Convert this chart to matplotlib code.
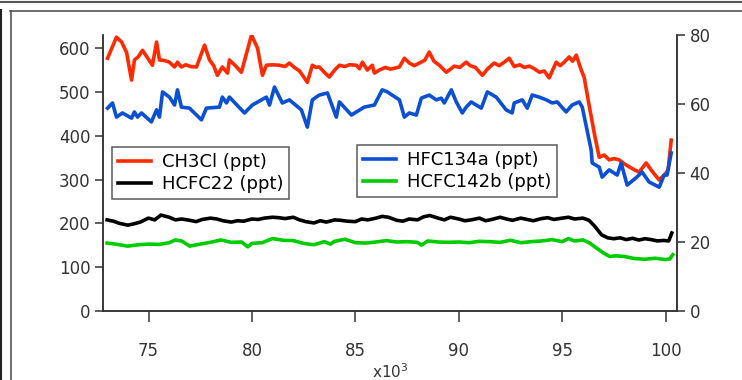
import numpy as np
import matplotlib.pyplot as plt
from matplotlib.lines import Line2D

# time axis in units of 1e3
red_x = [73.02, 73.45, 73.70, 73.94, 74.18, 74.32, 74.50, 74.71, 74.95, 75.19, 75.39, 75.53, 75.75,
         76.01, 76.26, 76.40, 76.59, 76.80, 77.05, 77.32, 77.71, 77.95, 78.15, 78.33, 78.57, 78.82,
         78.91, 79.20, 79.49, 79.98, 80.27, 80.51, 80.70, 81.00, 81.33, 81.60, 81.81, 82.05, 82.30,
         82.68, 82.92, 83.10, 83.26, 83.50, 83.74, 84.00, 84.23, 84.50, 84.70, 85.05, 85.20, 85.34,
         85.58, 85.82, 85.92, 86.16, 86.45, 86.70, 87.13, 87.37, 87.61, 87.85, 88.09, 88.35, 88.57,
         88.80, 89.06, 89.40, 89.60, 89.78, 90.05, 90.36, 90.55, 90.80, 91.14, 91.40, 91.71, 91.95,
         92.20, 92.44, 92.68, 92.95, 93.16, 93.41, 93.65, 93.90, 94.13, 94.37, 94.71, 94.90, 95.10,
         95.34, 95.50, 95.68, 95.92, 96.06, 96.30, 96.55, 96.79, 97.03, 97.27, 97.50, 97.75, 98.00,
         98.24, 98.50, 98.72, 99.06, 99.30, 99.50, 99.69, 100.02, 100.12, 100.27]
ch3cl = [577, 625, 614, 590, 527, 573, 580, 595, 578, 561, 614, 573, 572,
         568, 557, 568, 557, 562, 558, 557, 607, 573, 560, 538, 557, 543,
         573, 560, 545, 630, 600, 538, 561, 562, 561, 558, 566, 556, 548,
         522, 561, 556, 557, 545, 534, 550, 561, 558, 562, 561, 553, 568,
         550, 561, 543, 550, 556, 552, 557, 577, 566, 560, 566, 572, 591,
         570, 561, 545, 552, 559, 556, 568, 560, 556, 538, 553, 566, 560,
         568, 577, 558, 562, 556, 559, 553, 545, 548, 532, 568, 560, 568,
         580, 570, 584, 550, 534, 470, 406, 351, 356, 345, 348, 345, 336,
         329, 322, 317, 338, 322, 310, 299, 315, 322, 390]

blue_x = [73.02, 73.26, 73.45, 73.74, 74.18, 74.32, 74.47, 74.66, 75.14, 75.39, 75.53, 75.68, 76.01,
          76.26, 76.40, 76.59, 76.98, 77.56, 77.80, 78.43, 78.57, 78.77, 78.91, 79.64, 80.02, 80.70,
          80.85, 81.09, 81.47, 81.81, 82.39, 82.68, 82.92, 83.26, 83.65, 84.08, 84.23, 84.81, 85.43,
          85.92, 86.30, 86.55, 87.13, 87.37, 87.61, 87.95, 88.19, 88.57, 88.91, 89.15, 89.30, 89.64,
          89.88, 90.17, 90.36, 90.60, 91.09, 91.38, 91.81, 92.29, 92.58, 92.68, 93.07, 93.31, 93.55,
          93.89, 94.23, 94.52, 94.76, 95.19, 95.48, 95.82, 95.97, 96.40, 96.45, 96.79, 96.93, 97.27,
          97.66, 97.85, 98.14, 98.57, 98.86, 99.20, 99.69, 99.93, 100.07, 100.27]
hfc134a = [58.8, 60.3, 56.2, 57.4, 55.9, 57.7, 56.2, 57.4, 54.8, 58.3, 56.2, 63.5, 62.0,
           59.7, 64.1, 59.1, 58.8, 55.4, 58.8, 59.1, 62.0, 60.3, 62.0, 57.4, 59.7, 62.0,
           59.7, 64.9, 60.3, 61.2, 58.3, 53.3, 61.2, 62.6, 63.2, 56.2, 60.6, 56.8, 59.1,
           59.7, 64.1, 63.5, 61.2, 56.2, 57.4, 56.8, 61.7, 62.6, 61.2, 61.7, 60.3, 64.1,
           60.6, 57.4, 59.1, 60.6, 58.8, 63.5, 62.0, 58.3, 57.4, 60.3, 61.2, 58.8, 62.6,
           62.0, 61.2, 60.3, 60.6, 57.7, 59.7, 60.6, 59.1, 46.7, 42.9, 41.7, 38.8, 40.9,
           39.4, 42.9, 36.5, 38.6, 40.3, 37.4, 35.9, 39.4, 39.4, 45.8]

black_x = [73.0, 73.3, 73.6, 74.0, 74.3, 74.6, 75.0, 75.3, 75.6, 76.0, 76.3, 76.6, 77.0, 77.3, 77.6,
           78.0, 78.3, 78.6, 79.0, 79.3, 79.6, 80.0, 80.3, 80.6, 81.0, 81.3, 81.6, 82.0, 82.3, 82.6,
           83.0, 83.3, 83.6, 84.0, 84.3, 84.6, 85.0, 85.3, 85.6, 86.0, 86.3, 86.6, 87.0, 87.3, 87.6,
           88.0, 88.3, 88.6, 89.0, 89.3, 89.6, 90.0, 90.3, 90.6, 91.0, 91.3, 91.6, 92.0, 92.3, 92.6,
           93.0, 93.3, 93.6, 94.0, 94.3, 94.6, 95.0, 95.3, 95.6, 96.0, 96.3, 96.6, 96.9, 97.2, 97.5,
           97.8, 98.1, 98.4, 98.7, 99.0, 99.3, 99.6, 99.9, 100.15, 100.3]
hcfc22 = [208, 205, 200, 196, 199, 203, 212, 208, 219, 214, 208, 210, 207, 204, 209,
          212, 210, 206, 203, 206, 205, 210, 209, 212, 214, 213, 211, 214, 208, 204,
          201, 206, 203, 208, 207, 205, 204, 210, 208, 212, 216, 214, 207, 205, 210,
          208, 215, 218, 212, 208, 214, 210, 206, 208, 212, 206, 209, 214, 210, 207,
          212, 209, 206, 211, 213, 209, 212, 214, 210, 212, 207, 192, 174, 167, 165,
          167, 163, 166, 162, 165, 163, 160, 161, 160, 178]

green_x = [73.0, 73.5, 74.0, 74.5, 75.0, 75.5, 76.0, 76.3, 76.6, 77.0, 77.5, 78.0, 78.5, 79.0,
           79.5, 79.8, 80.0, 80.5, 81.0, 81.5, 82.0, 82.5, 83.0, 83.5, 83.8, 84.0, 84.5, 85.0,
           85.5, 86.0, 86.5, 87.0, 87.5, 88.0, 88.2, 88.5, 89.0, 89.5, 90.0, 90.5, 91.0, 91.5,
           92.0, 92.5, 93.0, 93.5, 94.0, 94.5, 95.0, 95.3, 95.6, 96.0, 96.3, 96.6, 97.0, 97.3,
           97.6, 98.0, 98.5, 99.0, 99.5, 100.0, 100.2, 100.35]
hcfc142b = [19.7, 19.3, 18.8, 19.2, 19.4, 19.3, 19.8, 20.6, 20.3, 18.8, 19.4, 19.9, 20.6, 19.9,
            20.0, 18.6, 19.6, 19.8, 21.0, 20.5, 20.4, 19.6, 19.2, 20.1, 19.4, 20.2, 20.8, 19.8,
            19.7, 20.0, 20.4, 20.0, 20.1, 19.9, 19.1, 20.3, 20.0, 19.9, 20.0, 19.8, 20.2, 20.1,
            19.9, 20.5, 19.8, 20.1, 20.3, 20.7, 20.1, 21.0, 20.3, 20.6, 19.8, 18.5, 16.8, 15.8,
            16.0, 15.8, 15.2, 15.0, 15.3, 14.9, 15.1, 16.3]

plt.rcParams['font.family'] = ['DejaVu Sans']
axcol = '#333333'

fig = plt.figure(figsize=(7.42, 3.8), dpi=100)
ax = fig.add_axes([103/742, 69/380, 574/742, 276/380])
ax2 = ax.twinx()

l1, = ax.plot(red_x, ch3cl, color='#ff2a00', lw=2.6, label='CH3Cl (ppt)')
l2, = ax.plot(black_x, hcfc22, color='black', lw=2.6, label='HCFC22 (ppt)')
l3, = ax2.plot(blue_x, hfc134a, color='#0a4fd4', lw=2.6, label='HFC134a (ppt)')
l4, = ax2.plot(green_x, hcfc142b, color='#00cc00', lw=2.6, label='HCFC142b (ppt)')

ax.set_xlim(72.8, 100.55)
ax.set_ylim(0, 630)
ax2.set_ylim(0, 80)
ax.set_xticks([75, 80, 85, 90, 95, 100])
ax.set_yticks([0, 100, 200, 300, 400, 500, 600])
ax2.set_yticks([0, 20, 40, 60, 80])

for a in (ax, ax2):
    a.spines['top'].set_visible(False)
    for s in a.spines.values():
        s.set_color(axcol)
        s.set_linewidth(1.1)
ax.tick_params(axis='x', length=8, width=1.1, color=axcol, labelcolor=axcol, labelsize=12, pad=14)
ax.tick_params(axis='y', length=6, width=1.1, color=axcol, labelcolor=axcol, labelsize=12, pad=3)
ax2.tick_params(axis='y', length=6, width=1.1, color=axcol, labelcolor=axcol, labelsize=12, pad=3)
ax.set_xlabel('x10$^3$', fontsize=11, color=axcol, labelpad=2)

leg_kw = dict(frameon=True, fancybox=False, fontsize=13, handlelength=1.8, handletextpad=0.6,
              labelspacing=0.2, borderpad=0.35, borderaxespad=0, loc='upper left')
leg1 = ax2.legend(handles=[l1, l2], bbox_to_anchor=(0.0157, 0.594), **leg_kw)
leg1.get_frame().set_edgecolor(axcol)
leg1.get_frame().set_linewidth(1.1)
ax2.add_artist(leg1)
leg2 = ax2.legend(handles=[l3, l4], bbox_to_anchor=(0.4425, 0.601), **leg_kw)
leg2.get_frame().set_edgecolor(axcol)
leg2.get_frame().set_linewidth(1.1)

# window frame around the graph
W, H = 742, 380
fc = '#555555'
fig.add_artist(Line2D([0, 1], [1 - 2/H, 1 - 2/H], color=fc, lw=1.5))
fig.add_artist(Line2D([10/W, 1], [1 - 10.5/H, 1 - 10.5/H], color=fc, lw=1.2))
fig.add_artist(Line2D([1/W, 1/W], [0, 1 - 10/H], color='#222222', lw=1.5))
fig.add_artist(Line2D([10.5/W, 10.5/W], [0, 1 - 10.5/H], color=fc, lw=1.2))

fig.savefig('out.png', dpi=100)
